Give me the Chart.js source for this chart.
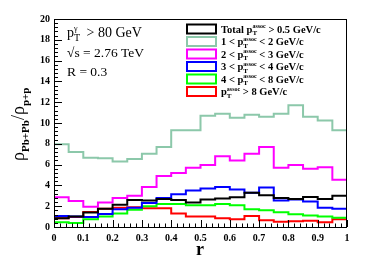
<!DOCTYPE html>
<html>
<head>
<meta charset="utf-8">
<script src="https://cdn.jsdelivr.net/npm/chart.js@4"></script>
<style>
  html, body { margin: 0; padding: 0; background: #fff; }
</style>
</head>
<body>
<canvas id="ratioChart" width="365" height="262"></canvas>
<script>
// bin edges in r (20 bins of 0.05)
const binEdges = [0, 0.05, 0.1, 0.15, 0.2, 0.25, 0.3, 0.35, 0.4, 0.45, 0.5,
                  0.55, 0.6, 0.65, 0.7, 0.75, 0.8, 0.85, 0.9, 0.95, 1.0];

// rho(Pb+Pb)/rho(p+p) per bin
const totalAssoc = [0.85, 1.0, 1.4, 1.75, 2.15, 2.6, 2.55, 2.7, 2.6, 2.35,
                    2.65, 2.75, 2.85, 3.3, 3.05, 2.8, 2.7, 2.88, 2.7, 3.0];
const assoc1to2 = [7.95, 7.2, 6.65, 6.6, 6.3, 6.55, 7.05, 7.7, 9.3, 9.3,
                   10.7, 10.9, 10.5, 10.8, 10.6, 10.9, 11.7, 10.6, 10.25, 9.3];
const assoc2to3 = [2.85, 2.5, 1.95, 2.35, 2.8, 3.0, 3.85, 4.9, 5.2, 5.7,
                   5.95, 6.8, 6.4, 7.05, 7.7, 5.7, 5.95, 5.6, 5.75, 4.55];
const assoc3to4 = [1.05, 1.0, 0.95, 1.25, 1.7, 1.85, 2.3, 2.8, 3.15, 3.5,
                   3.7, 3.85, 3.6, 3.3, 3.8, 2.55, 2.65, 2.45, 1.85, 1.75];
const assoc4to8 = [0.45, 0.38, 0.75, 1.0, 1.3, 1.65, 2.0, 2.2, 2.2, 2.1,
                   2.1, 2.2, 2.1, 1.7, 1.6, 1.42, 1.22, 1.1, 1.0, 0.9];
const assocAbove8 = [0.85, 0.95, 1.45, 1.75, 1.85, 1.9, 1.8, 1.8, 1.3, 1.0,
                     1.0, 0.85, 0.75, 1.05, 0.65, 0.5, 0.55, 0.6, 0.45, 0.75];

const xTickLabels = ['0', '0.1', '0.2', '0.3', '0.4', '0.5', '0.6', '0.7', '0.8', '0.9', '1'];
const yTickLabels = ['0', '2', '4', '6', '8', '10', '12', '14', '16', '18', '20'];

// legend text pieces: before "p", after the sub/superscript
const legendPre = ['Total p', '1 < p', '2 < p', '3 < p', '4 < p', 'p'];
const legendPost = [' > 0.5 GeV/c', ' < 2 GeV/c', ' < 3 GeV/c', ' < 4 GeV/c', ' < 8 GeV/c', ' > 8 GeV/c'];

const seriesColors = ['#000000', 'rgb(140,200,170)', '#ff00ff', '#0000ff', '#00ff00', '#ff0000'];
const seriesValues = [totalAssoc, assoc1to2, assoc2to3, assoc3to4, assoc4to8, assocAbove8];

function histPoints(vals) {
  return binEdges.map((x, i) => ({ x: x, y: vals[Math.min(i, vals.length - 1)] }));
}

const SERIF = '"Liberation Serif", "DejaVu Serif", serif';

// draws text with a subscript and superscript stacked after the first piece
function drawScript(ctx, x, y, pre, sub, sup, post, size, bold, gap) {
  const w = bold ? 'bold ' : '';
  ctx.font = w + size + 'px ' + SERIF;
  ctx.fillText(pre, x, y);
  x += ctx.measureText(pre).width;
  ctx.font = w + Math.round(size * 0.68) + 'px ' + SERIF;
  ctx.fillText(sub, x, y + size * 0.28);
  const subW = ctx.measureText(sub).width;
  ctx.font = w + Math.round(size * 0.58) + 'px ' + SERIF;
  ctx.fillText(sup, x, y - size * 0.42);
  const supW = ctx.measureText(sup).width;
  x += Math.max(subW, supW) + (gap || 0);
  ctx.font = w + size + 'px ' + SERIF;
  ctx.fillText(post, x, y);
}

const decorations = {
  id: 'decorations',
  afterDraw(chart) {
    const ctx = chart.ctx;
    const area = chart.chartArea;
    const xs = chart.scales.x, ys = chart.scales.y;
    ctx.save();
    ctx.strokeStyle = '#000';
    ctx.lineWidth = 1;
    ctx.strokeRect(area.left + 0.5, area.top + 0.5, area.right - area.left - 1, area.bottom - area.top);

    // inward ticks
    ctx.beginPath();
    for (let k = 0; k <= 50; k++) {
      const px = Math.round(xs.getPixelForValue(k * 0.02)) + 0.5;
      const len = k % 5 === 0 ? 7 : 3.5;
      ctx.moveTo(px, area.bottom);
      ctx.lineTo(px, area.bottom - len);
    }
    for (let k = 0; k <= 50; k++) {
      const py = Math.round(ys.getPixelForValue(k * 0.4)) + 0.5;
      const len = k % 5 === 0 ? 8 : 4;
      ctx.moveTo(area.left, py);
      ctx.lineTo(area.left + len, py);
    }
    ctx.stroke();

    ctx.fillStyle = '#000';
    ctx.textBaseline = 'alphabetic';
    ctx.textAlign = 'left';

    // annotations
    drawScript(ctx, 67, 37, 'p', 'T', '\u03b3', ' > 80 GeV', 14, false, 3);
    ctx.font = '13.5px ' + SERIF;
    ctx.fillText('\u221as = 2.76 TeV', 67, 57);
    ctx.fillText('R = 0.3', 67, 76);

    // legend
    chart.data.datasets.forEach((ds, i) => {
      const cy = 29 + i * 12.5;
      ctx.strokeStyle = ds.borderColor;
      ctx.lineWidth = 2;
      ctx.strokeRect(187, cy - 4.5, 29, 9);
      ctx.fillStyle = '#000';
      drawScript(ctx, 221, cy + 3.5, legendPre[i], 'T', 'assoc', legendPost[i], 10.5, true, 0);
    });

    // axis titles
    ctx.font = 'bold 18px ' + SERIF;
    ctx.textAlign = 'center';
    ctx.fillText('r', 200, 255);

    ctx.translate(24, 161);
    ctx.rotate(-Math.PI / 2);
    ctx.textAlign = 'left';
    let tx = 0;
    ctx.font = '18px ' + SERIF;
    ctx.fillText('\u03c1', tx, 0);
    tx += ctx.measureText('\u03c1').width;
    ctx.font = 'bold 11px ' + SERIF;
    ctx.fillText('Pb+Pb', tx, 5);
    tx += ctx.measureText('Pb+Pb').width;
    ctx.font = '18px ' + SERIF;
    ctx.fillText('/\u03c1', tx, 0);
    tx += ctx.measureText('/\u03c1').width;
    ctx.font = 'bold 11px ' + SERIF;
    ctx.fillText('p+p', tx, 5);
    ctx.restore();
  }
};

const datasets = seriesValues.map((vals, i) => ({
  label: legendPre[i] + legendPost[i],
  data: histPoints(vals),
  borderColor: seriesColors[i],
  backgroundColor: seriesColors[i],
  borderWidth: 2,
  stepped: 'before',
  pointRadius: 0,
  fill: false
}));

new Chart(document.getElementById('ratioChart'), {
  type: 'line',
  data: { datasets: datasets },
  options: {
    responsive: false,
    animation: false,
    layout: { padding: { top: 19, right: 18, left: 0, bottom: 0 } },
    plugins: { legend: { display: false }, tooltip: { enabled: false } },
    scales: {
      x: {
        type: 'linear',
        min: 0, max: 1,
        afterFit(scale) { scale.height = 35; },
        grid: { display: false, drawTicks: false },
        border: { display: false },
        ticks: {
          stepSize: 0.1,
          padding: 5,
          maxRotation: 0,
          color: '#000',
          font: { family: SERIF, size: 10, weight: 'bold' },
          callback: (v, i) => xTickLabels[i]
        }
      },
      y: {
        min: 0, max: 20,
        afterFit(scale) { scale.width = 54; },
        grid: { display: false, drawTicks: false },
        border: { display: false },
        ticks: {
          stepSize: 2,
          padding: 4,
          color: '#000',
          font: { family: SERIF, size: 10, weight: 'bold' },
          callback: (v, i) => yTickLabels[i]
        }
      }
    }
  },
  plugins: [decorations]
});
</script>
</body>
</html>
